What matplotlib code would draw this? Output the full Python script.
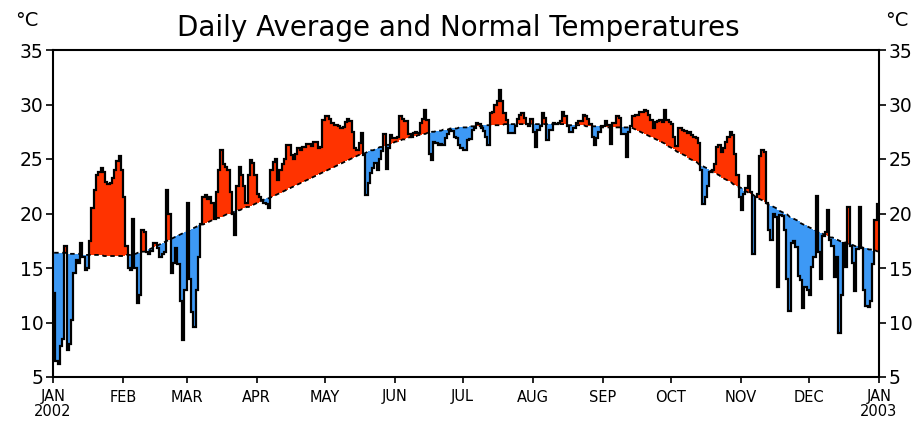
import numpy as np
import matplotlib
matplotlib.use("Agg")
import matplotlib.pyplot as plt

# ---------------- data (daily, 2002) ----------------
months = ['JAN', 'FEB', 'MAR', 'APR', 'MAY', 'JUN', 'JUL', 'AUG', 'SEP', 'OCT', 'NOV', 'DEC', 'JAN']
month_start = [0, 31, 59, 90, 120, 151, 181, 212, 243, 273, 304, 334, 365]
years = ['2002', '2003']

temp_jan = [12.7, 6.5, 6.2, 7.8, 8.5, 17.0, 7.5, 8.0, 10.2, 14.5, 15.7, 15.5, 17.3, 16.0, 14.8, 15.0,
            17.5, 20.5, 22.2, 23.5, 23.8, 24.2, 23.8, 22.9, 22.7, 22.8, 23.3, 24.0, 24.8, 25.3, 24.0]
temp_feb = [21.5, 17.0, 15.0, 14.8, 19.5, 15.0, 11.8, 12.5, 18.5, 18.3, 16.5, 16.3, 16.6, 17.3,
            17.3, 16.8, 16.0, 16.3, 16.5, 22.2, 20.0, 14.5, 15.5, 16.8, 15.4, 12.0, 8.4, 13.0]
temp_mar = [21.0, 14.0, 11.0, 9.6, 13.0, 16.0, 19.0, 21.5, 21.7, 21.3, 21.5, 21.0, 19.5, 22.0, 24.0,
            25.8, 24.5, 24.3, 24.0, 22.0, 20.0, 18.0, 22.5, 24.3, 23.5, 22.5, 21.0, 23.5, 24.9, 24.6, 23.5]
temp_apr = [21.8, 21.5, 21.2, 21.0, 20.9, 20.5, 24.0, 24.7, 25.0, 23.1, 24.0, 24.5, 25.0, 26.3, 26.3,
            25.4, 25.0, 25.5, 26.0, 25.8, 26.1, 26.1, 26.4, 26.4, 26.2, 26.6, 26.6, 26.0, 26.1, 28.6]
temp_may = [28.9, 28.9, 28.7, 28.3, 28.1, 28.1, 28.0, 27.8, 27.9, 28.4, 28.7, 28.5, 27.5, 26.0, 25.8,
            26.5, 27.4, 25.4, 21.7, 22.8, 23.7, 24.2, 24.6, 24.0, 25.0, 25.7, 27.3, 24.1, 26.0, 27.2, 26.9]
temp_jun = [26.9, 27.0, 28.9, 28.7, 28.5, 28.5, 27.3, 27.0, 27.4, 27.5, 27.4, 28.3, 28.7, 29.5, 28.6,
            25.5, 24.9, 26.6, 26.5, 26.3, 26.4, 26.3, 26.9, 27.3, 27.7, 27.6, 27.0, 26.9, 26.3, 26.0]
temp_jul = [25.8, 25.8, 26.7, 26.8, 27.7, 27.8, 28.3, 28.2, 27.8, 27.6, 27.0, 26.3, 29.2, 29.3, 30.0,
            30.3, 31.3, 30.3, 29.2, 28.6, 27.4, 27.4, 27.4, 28.0, 28.7, 29.0, 29.2, 28.8, 28.2, 28.0, 28.7]
temp_aug = [27.5, 26.1, 27.7, 28.0, 29.2, 28.8, 26.7, 27.7, 27.7, 28.3, 28.2, 28.3, 28.5, 29.3, 28.9,
            28.0, 27.5, 27.5, 27.8, 28.3, 28.5, 28.5, 29.0, 28.9, 28.7, 28.2, 27.0, 26.3, 26.9, 27.5, 28.0]
temp_sep = [28.0, 28.5, 28.1, 26.4, 28.3, 28.3, 28.9, 28.8, 27.3, 27.3, 25.2, 27.5, 28.0, 28.9, 29.0,
            29.0, 29.3, 29.3, 29.5, 29.4, 29.0, 28.6, 27.8, 28.4, 28.5, 28.6, 28.4, 29.5, 28.6, 28.4]
temp_oct = [28.2, 27.0, 26.2, 27.8, 27.8, 27.7, 27.6, 27.4, 27.5, 27.2, 27.0, 26.9, 26.5, 24.0, 20.9,
            21.5, 22.5, 23.8, 24.0, 24.5, 26.1, 26.3, 25.6, 26.0, 26.6, 27.0, 27.5, 27.2, 25.5, 23.5, 21.5]
temp_nov = [20.3, 21.8, 22.3, 23.4, 22.0, 16.3, 21.5, 21.8, 25.3, 25.8, 25.6, 21.0, 18.5, 17.6, 20.0,
            19.7, 13.3, 19.9, 19.8, 18.5, 14.0, 11.1, 17.3, 17.5, 16.9, 14.3, 13.9, 11.3, 13.3, 13.0]
temp_dec = [12.5, 15.1, 16.0, 21.6, 16.5, 14.0, 17.9, 18.3, 20.3, 17.6, 17.0, 14.2, 16.0, 9.0, 12.5,
            17.3, 15.1, 20.6, 17.0, 15.5, 12.9, 16.7, 20.6, 16.8, 13.0, 11.5, 11.4, 12.0, 15.4, 19.4, 20.9]

norm_jan = [16.4] * 6 + [16.3] * 7 + [16.2] * 9 + [16.1] * 9
norm_feb = [16.1, 16.2, 16.2, 16.2, 16.3, 16.3, 16.4, 16.4, 16.5, 16.5, 16.6, 16.7, 16.8, 16.9,
            17.0, 17.1, 17.2, 17.3, 17.4, 17.5, 17.6, 17.7, 17.8, 17.9, 18.0, 18.1, 18.2, 18.3]
norm_mar = [18.4, 18.5, 18.6, 18.7, 18.8, 18.9, 19.0, 19.0, 19.1, 19.2, 19.3, 19.4, 19.5, 19.6, 19.6,
            19.7, 19.8, 19.9, 20.0, 20.0, 20.1, 20.2, 20.3, 20.3, 20.4, 20.5, 20.6, 20.6, 20.7, 20.8, 20.9]
norm_apr = [21.0, 21.1, 21.2, 21.3, 21.4, 21.4, 21.5, 21.6, 21.7, 21.8, 21.9, 22.0, 22.1, 22.2, 22.3,
            22.4, 22.5, 22.6, 22.7, 22.8, 22.9, 23.0, 23.1, 23.2, 23.3, 23.4, 23.5, 23.6, 23.7, 23.8]
norm_may = [23.9, 24.0, 24.1, 24.2, 24.3, 24.4, 24.5, 24.6, 24.7, 24.8, 24.9, 25.0, 25.1, 25.2, 25.3,
            25.4, 25.5, 25.5, 25.6, 25.7, 25.8, 25.8, 25.9, 26.0, 26.1, 26.1, 26.2, 26.3, 26.3, 26.4, 26.5]
norm_jun = [26.6, 26.6, 26.7, 26.8, 26.8, 26.9, 27.0, 27.0, 27.1, 27.1, 27.2, 27.2, 27.3, 27.3, 27.4,
            27.4, 27.5, 27.5, 27.6, 27.6, 27.6, 27.7, 27.7, 27.7, 27.8, 27.8, 27.8, 27.8, 27.9, 27.9]
norm_jul = [27.9] * 3 + [28.0] * 6 + [28.1] * 9 + [28.2] * 13
norm_aug = [28.2] * 15 + [28.1] * 8 + [28.0] * 7 + [27.9]
norm_sep = [27.9] * 13 + [27.8, 27.7, 27.6, 27.5, 27.4, 27.3, 27.2, 27.1, 27.0, 26.9, 26.8, 26.7,
                          26.6, 26.5, 26.4, 26.2, 26.1]
norm_oct = [26.0, 25.9, 25.7, 25.6, 25.5, 25.4, 25.3, 25.1, 25.0, 24.9, 24.8, 24.7, 24.5, 24.4, 24.3,
            24.2, 24.1, 23.9, 23.8, 23.7, 23.6, 23.5, 23.3, 23.2, 23.1, 23.0, 22.9, 22.7, 22.6, 22.5, 22.4]
norm_nov = [22.3, 22.1, 22.0, 21.9, 21.8, 21.7, 21.5, 21.4, 21.3, 21.2, 21.1, 20.9, 20.8, 20.7, 20.6,
            20.5, 20.3, 20.2, 20.1, 20.0, 19.9, 19.7, 19.6, 19.5, 19.4, 19.3, 19.1, 19.0, 18.9, 18.8]
norm_dec = [18.7, 18.6, 18.5, 18.4, 18.3, 18.2, 18.1, 18.0, 17.9, 17.8, 17.8, 17.7, 17.6, 17.5, 17.4,
            17.4, 17.3, 17.2, 17.2, 17.1, 17.0, 17.0, 16.9, 16.9, 16.8, 16.8, 16.7, 16.7, 16.6, 16.6, 16.5]

temp = np.array(temp_jan + temp_feb + temp_mar + temp_apr + temp_may + temp_jun +
                temp_jul + temp_aug + temp_sep + temp_oct + temp_nov + temp_dec)
normal = np.array(norm_jan + norm_feb + norm_mar + norm_apr + norm_may + norm_jun +
                  norm_jul + norm_aug + norm_sep + norm_oct + norm_nov + norm_dec)
ndays = len(temp)

# ---------------- figure ----------------
W, H = 917, 425
fig = plt.figure(figsize=(W / 100, H / 100), dpi=100)
L, R, T, B = 53, 879, 50, 377
ax = fig.add_axes([L / W, 1 - B / H, (R - L) / W, (B - T) / H])

# step representation: each day occupies [d, d+1]
xs = np.repeat(np.arange(ndays + 1), 2)[1:-1]
ys = np.repeat(temp, 2)
ns = np.repeat(normal, 2)

red = '#ff3300'
blue = '#3d99f5'
ax.fill_between(xs, ns, ys, where=ys >= ns, color=red, lw=0, zorder=2)
ax.fill_between(xs, ns, ys, where=ys < ns, color=blue, lw=0, zorder=2)
ax.plot(np.arange(ndays) + 0.5, normal, color='black', lw=1.3, ls=(0, (2.5, 2.0)), zorder=3)
ax.plot(xs, ys, color='black', lw=1.6, zorder=4, solid_joinstyle='miter')

ax.set_xlim(0, ndays)
ax.set_ylim(5, 35)

yt = [5, 10, 15, 20, 25, 30, 35]
ax.set_yticks(yt)
ax.set_yticklabels([str(v) for v in yt])
xlabels = list(months)
xlabels[0] = months[0] + '\n' + years[0]
xlabels[-1] = months[-1] + '\n' + years[1]
ax.set_xticks(month_start)
ax.set_xticklabels(xlabels, fontsize=10.5, linespacing=1.0)

ax.tick_params(axis='y', which='both', direction='out', length=5, width=1.2,
               labelsize=13.5, left=True, right=True, labelleft=True, labelright=True, pad=2)
ax.tick_params(axis='x', direction='out', length=4, width=1.2, pad=5)
for s in ax.spines.values():
    s.set_linewidth(1.5)

fig.text(0.5, 1 - 28 / H, 'Daily Average and Normal Temperatures', ha='center', va='center',
         fontsize=20)
fig.text(27 / W, 1 - 20 / H, '°C', ha='center', va='center', fontsize=14)
fig.text(897 / W, 1 - 20 / H, '°C', ha='center', va='center', fontsize=14)

fig.savefig('out.png', dpi=100)
